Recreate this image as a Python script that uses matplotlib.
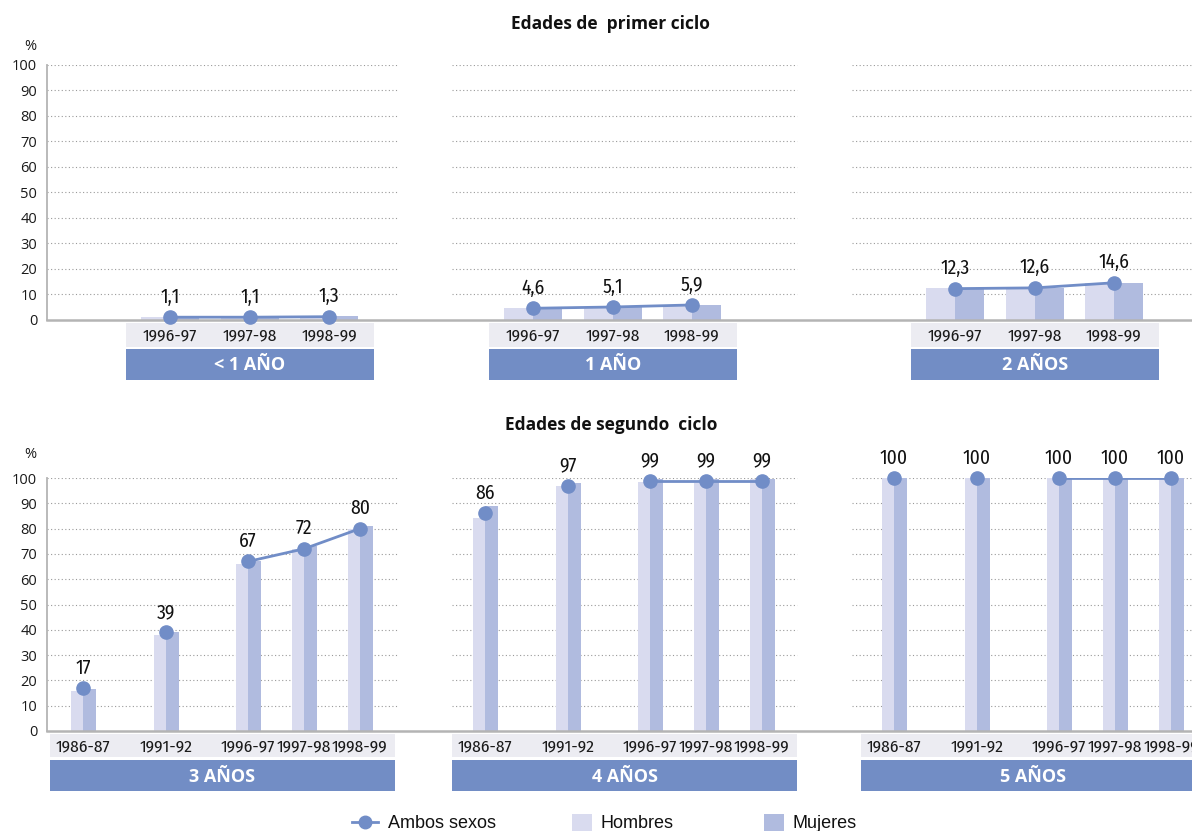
import matplotlib as mpl
import matplotlib.pyplot as plt
from matplotlib.patches import Rectangle
from matplotlib.lines import Line2D

mpl.rcParams['font.family'] = ['Open Sans', 'DejaVu Sans']
NARROW = ['Fira Sans Condensed', 'DejaVu Sans']
ARIAL = ['Liberation Sans', 'DejaVu Sans']

W, H = 1192, 831

# ---- data: primer ciclo
top_groups = ['< 1 AÑO', '1 AÑO', '2 AÑOS']
top_years = ['1996-97', '1997-98', '1998-99']
top_ambos = [[1.1, 1.1, 1.3], [4.6, 5.1, 5.9], [12.3, 12.6, 14.6]]
top_hombres = [[1.2, 1.0, 1.2], [4.8, 4.9, 5.8], [12.4, 12.5, 14.5]]
top_mujeres = [[1.0, 1.2, 1.4], [4.4, 5.2, 6.0], [12.2, 12.7, 14.7]]

# ---- data: segundo ciclo
bot_groups = ['3 AÑOS', '4 AÑOS', '5 AÑOS']
bot_years = ['1986-87', '1991-92', '1996-97', '1997-98', '1998-99']
bot_ambos = [[17, 39, 67, 72, 80], [86, 97, 99, 99, 99], [100, 100, 100, 100, 100]]
bot_hombres = [[16, 38, 66, 72, 80], [84, 97, 98.5, 98, 99.6], [100, 100, 100, 100, 100]]
bot_mujeres = [[16.6, 39, 67, 73, 81], [89, 98, 99.5, 99.5, 99.6], [100, 100, 100, 100, 100]]

# colours
c_line = '#718dc7'
c_box = '#728dc5'
c_h = '#d9dbef'
c_m = '#b0bbdf'
c_strip = '#ececf2'
c_spine = '#b4b4b4'

# layout (pixel positions)
top_start = [170, 533, 955]
top_off = [0, 80, 159]
bot_start = [83, 485, 894]
bot_off = [0, 83, 165, 221, 277]
grid_segs = [(47, 397), (452, 797), (852, 1192)]

fig = plt.figure(figsize=(W / 100, H / 100), dpi=100)

ov = fig.add_axes([0, 0, 1, 1])
ov.set_xlim(0, W)
ov.set_ylim(H, 0)
ov.axis('off')


def row(y0, y100, starts, offs, groups, years, ambos, hombres, mujeres,
        bw, fmt, join_from, strip_pad, strip_y):
    ax = fig.add_axes([47 / W, (H - y0) / H, (W - 47) / W, (y0 - y100) / H])
    ax.set_xlim(47, W)
    ax.set_ylim(0, 100)
    ax.patch.set_alpha(0)
    for s in ['top', 'right']:
        ax.spines[s].set_visible(False)
    ax.spines['left'].set_color(c_spine)
    ax.spines['left'].set_linewidth(1.3)
    ax.spines['bottom'].set_color(c_spine)
    ax.spines['bottom'].set_linewidth(1.8)
    ax.set_xticks([])
    ax.set_yticks(range(0, 101, 10))
    ax.tick_params(axis='y', length=0, pad=7, labelsize=10.5, labelcolor='#1a1a1a')
    for a, b in grid_segs:
        ax.hlines(range(10, 101, 10), a, b, colors='#9a9a9a', lw=0.8,
                  linestyles=(0, (1, 2.2)), zorder=0)

    for g in range(len(groups)):
        xs = [starts[g] + o for o in offs]
        ax.bar([x - bw / 2 for x in xs], hombres[g], width=bw, color=c_h, zorder=2)
        ax.bar([x + bw / 2 for x in xs], mujeres[g], width=bw, color=c_m, zorder=2)
        ax.plot(xs[join_from:], ambos[g][join_from:], color=c_line, lw=2, zorder=3)
        ax.plot(xs, ambos[g], 'o', color=c_line, ms=9.5, zorder=4, clip_on=False)
        for x, v in zip(xs, ambos[g]):
            ax.annotate(fmt(v), (x, v), xytext=(0, 14.5), textcoords='offset points',
                        ha='center', va='center', fontsize=14, family=NARROW,
                        color='#111111')

        # year strip and group box
        x1 = xs[0] - strip_pad[0]
        x2 = xs[-1] + strip_pad[1]
        sy0, sy1, by0, by1 = strip_y
        ov.add_patch(Rectangle((x1, sy0), x2 - x1, sy1 - sy0, color=c_strip, lw=0))
        ov.add_patch(Rectangle((x1, by0), x2 - x1, by1 - by0, color=c_box, lw=0))
        for x, yr in zip(xs, years):
            ov.text(x, (sy0 + sy1) / 2 + 1, yr, ha='center', va='center',
                    fontsize=12.5, family=NARROW, color='#1a1a1a')
        ov.text((x1 + x2) / 2, (by0 + by1) / 2 + 1, groups[g], ha='center',
                va='center', fontsize=13, fontweight='bold', color='white')
    return ax


row(320, 65, top_start, top_off, top_groups, top_years,
    top_ambos, top_hombres, top_mujeres, 29,
    lambda v: f'{v:.1f}'.replace('.', ','), 0, (44, 45), (323, 347, 349, 380))
row(731, 478, bot_start, bot_off, bot_groups, bot_years,
    bot_ambos, bot_hombres, bot_mujeres, 12.5,
    lambda v: f'{v:.0f}', 2, (33, 35), (734, 757, 760, 791))

ov.text(610, 24, 'Edades de  primer ciclo', ha='center', va='center',
        fontsize=12.5, fontweight='bold', color='#111111')
ov.text(611, 425, 'Edades de segundo  ciclo', ha='center', va='center',
        fontsize=12.5, fontweight='bold', color='#111111')
ov.text(30, 46, '%', ha='center', va='center', fontsize=10.5, color='#1a1a1a')
ov.text(30, 455, '%', ha='center', va='center', fontsize=10.5, color='#1a1a1a')

# legend
ov.add_line(Line2D([352, 378], [822, 822], color=c_line, lw=2))
ov.plot([365], [822], 'o', color=c_line, ms=9)
ov.text(388, 823, 'Ambos sexos', ha='left', va='center', fontsize=13, family=ARIAL, color='#111111')
ov.add_patch(Rectangle((572, 814), 20, 17, color=c_h, lw=0))
ov.text(600, 823, 'Hombres', ha='left', va='center', fontsize=13, family=ARIAL, color='#111111')
ov.add_patch(Rectangle((764, 814), 20, 17, color=c_m, lw=0))
ov.text(792, 823, 'Mujeres', ha='left', va='center', fontsize=13, family=ARIAL, color='#111111')

fig.savefig('out.png', dpi=100)
